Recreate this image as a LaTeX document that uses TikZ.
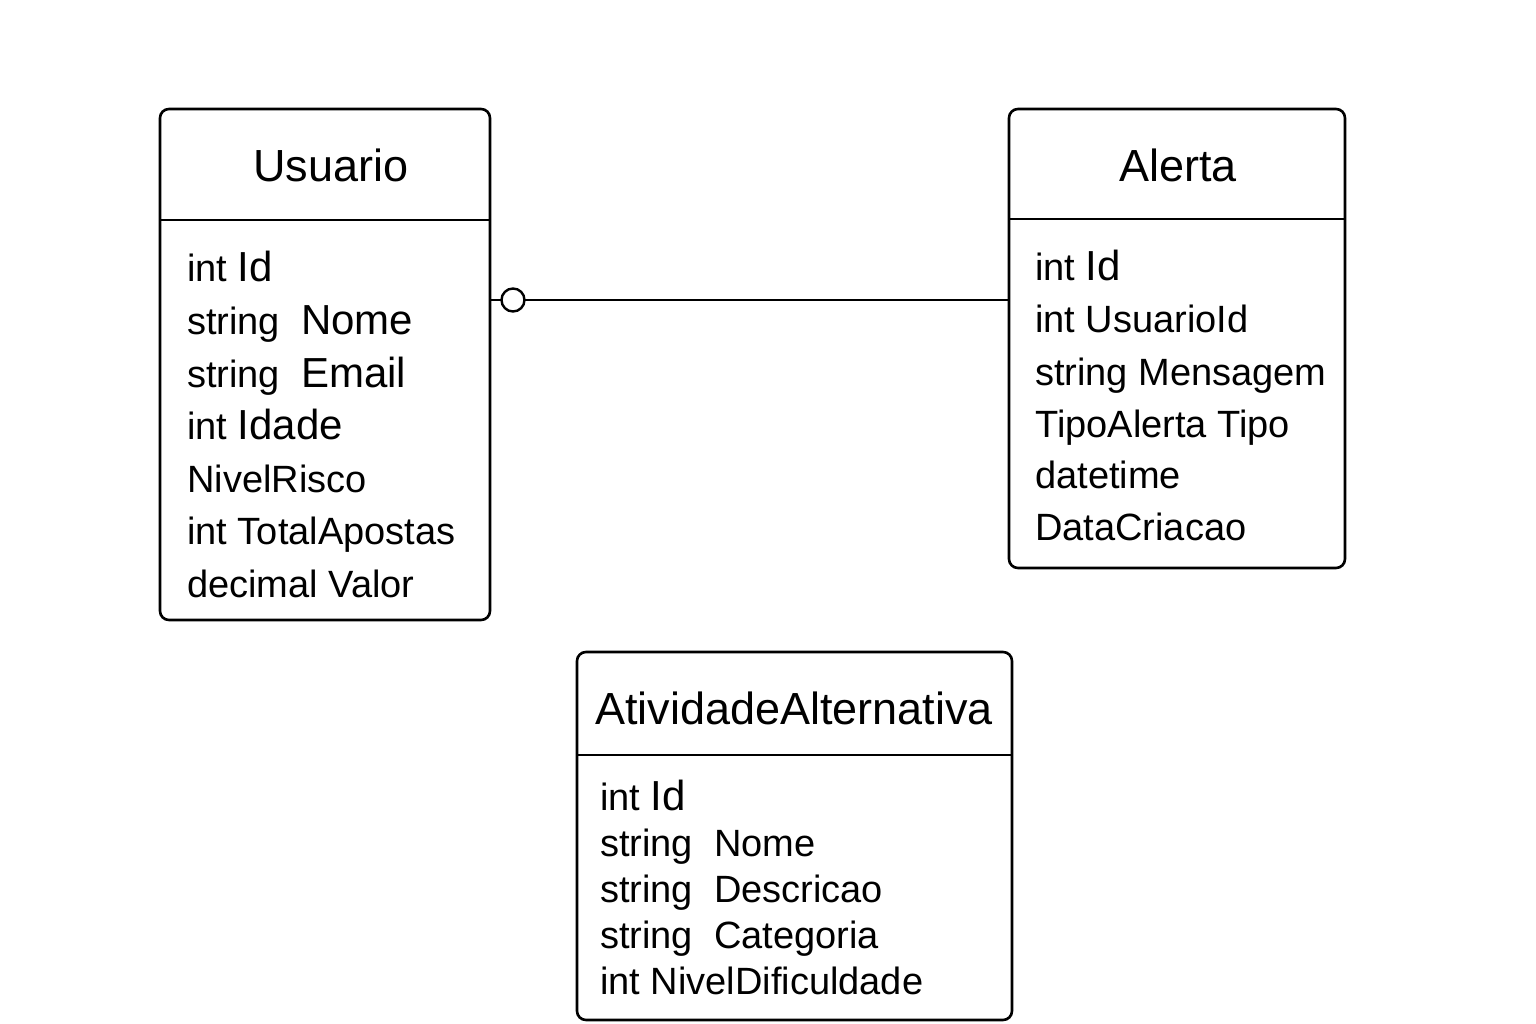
\documentclass[tikz,border=0pt]{standalone}
\usepackage{fontspec}
\setmainfont{Liberation Sans}
\newcommand{\bigname}[1]{{\fontsize{42}{46}\selectfont #1}}
\begin{document}
\begin{tikzpicture}[x=1pt,y=-1pt,
  entity/.style={draw, line width=2.6pt, rounded corners=9pt, inner sep=0pt, outer sep=0pt, anchor=north west},
  divider/.style={line width=2.6pt},
  title/.style={inner sep=0pt, anchor=base, font=\fontsize{45}{54}\selectfont},
  attr/.style={inner sep=0pt, anchor=base west, font=\fontsize{38}{46}\selectfont},
  conn/.style={line width=2.6pt}]
\useasboundingbox[fill=white] (0,0) rectangle (1536,1024);

% Usuario
\node[entity, minimum width=330pt, minimum height=511pt] (usuario) at (160,109) {};
\draw[divider] (usuario.west |- 0,220) -- (usuario.east |- 0,220);
\node[title] (usuarioT) at (331,182) {Usuario};
\node[attr] (u1) at (187,282) {int \bigname{Id}};
\node[attr] (u2) at (187,334) {string\ \ \bigname{Nome}};
\node[attr] (u3) at (187,387) {string\ \ \bigname{Email}};
\node[attr] (u4) at (187,439) {int \bigname{Idade}};
\node[attr] (u5) at (187,492) {NivelRisco};
\node[attr] (u6) at (187,544) {int TotalApostas};
\node[attr] (u7) at (187,597) {decimal Valor};

% Alerta
\node[entity, minimum width=336pt, minimum height=459pt] (alerta) at (1009,109) {};
\draw[divider] (alerta.west |- 0,219) -- (alerta.east |- 0,219);
\node[title] (alertaT) at (1178,182) {Alerta};
\node[attr] (a1) at (1035,280) {int \bigname{Id}};
\node[attr] (a2) at (1035,332) {int UsuarioId};
\node[attr] (a3) at (1035,385) {string\ Mensagem};
\node[attr] (a4) at (1035,437) {TipoAlerta Tipo};
\node[attr] (a5) at (1035,488) {datetime};
\node[attr] (a6) at (1035,540) {DataCriacao};

% AtividadeAlternativa
\node[entity, minimum width=435pt, minimum height=368pt] (atividade) at (577,652) {};
\draw[divider] (atividade.west |- 0,755) -- (atividade.east |- 0,755);
\node[title] (atividadeT) at (794,724) {AtividadeAlternativa};
\node[attr] (t1) at (600,810) {int \bigname{Id}};
\node[attr] (t2) at (600,856) {string\ \ Nome};
\node[attr] (t3) at (600,902) {string\ \ Descricao};
\node[attr] (t4) at (600,948) {string\ \ Categoria};
\node[attr] (t5) at (600,994) {int NivelDificuldade};

% Connector
\coordinate (cstart) at (usuario.east |- 0,300);
\coordinate (cend) at (alerta.west |- 0,300);
\draw[conn] (cstart) -- (cend);
\node[draw, circle, line width=2.4pt, fill=white, minimum size=23pt, inner sep=0pt] (zero) at (513,300) {};
\end{tikzpicture}
\end{document}
